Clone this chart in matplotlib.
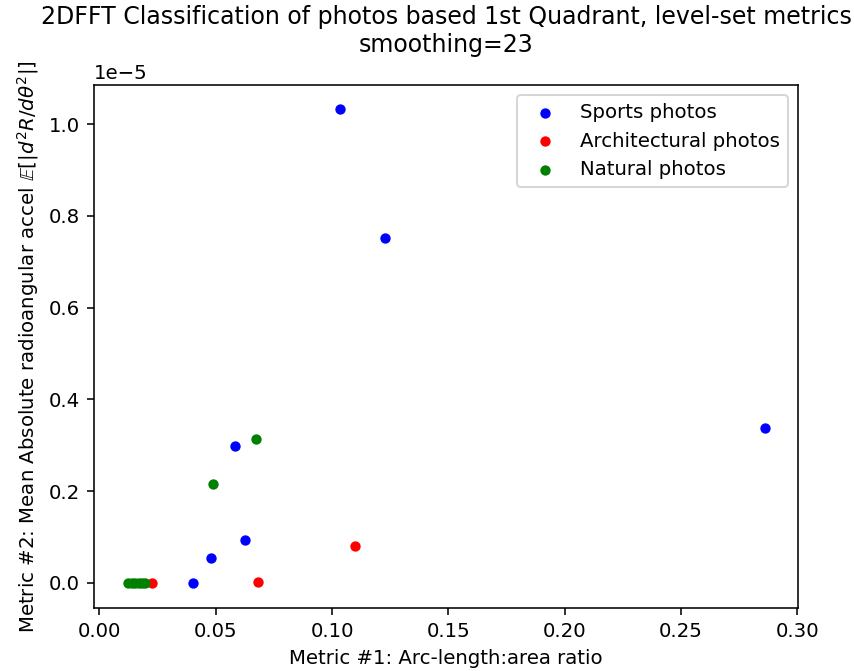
import matplotlib
matplotlib.use("Agg")
import matplotlib.pyplot as plt
import numpy as np

sports_x = [0.1033, 0.1228, 0.2862, 0.0582, 0.0625, 0.0478, 0.0403]
sports_y = [1.032, 0.752, 0.338, 0.299, 0.093, 0.055, 0.001]
arch_x = [0.1100, 0.0680, 0.0226]
arch_y = [0.081, 0.003, 0.0]
nat_x = [0.0674, 0.0489, 0.0125, 0.0140, 0.0155, 0.0170, 0.0185, 0.0198]
nat_y = [0.314, 0.216, 0.0, 0.0, 0.0, 0.0, 0.0, 0.0]
scale = 1e-5

dpi = 142
fig = plt.figure(figsize=(854 / dpi, 671 / dpi), dpi=dpi)
ax = fig.add_axes([94 / 854, 1 - 608 / 671, (798 - 94) / 854, (608 - 85) / 671])

ax.scatter(sports_x, np.array(sports_y) * scale, c="blue", s=18, label="Sports photos")
ax.scatter(arch_x, np.array(arch_y) * scale, c="red", s=18, label="Architectural photos")
ax.scatter(nat_x, np.array(nat_y) * scale, c="green", s=18, label="Natural photos")

ax.set_xlim(-0.0023, 0.3003)
ax.set_ylim(-0.0545e-5, 1.085e-5)

ax.set_title("2DFFT Classification of photos based 1st Quadrant, level-set metrics\nsmoothing=23")
ax.set_xlabel("Metric #1: Arc-length:area ratio")
ax.set_ylabel(r"Metric #2: Mean Absolute radioangular accel $\mathbb{E}[|d^2R/d\theta^2|]$")
ax.legend(loc="upper right")

fig.savefig("out.png", dpi=dpi)
